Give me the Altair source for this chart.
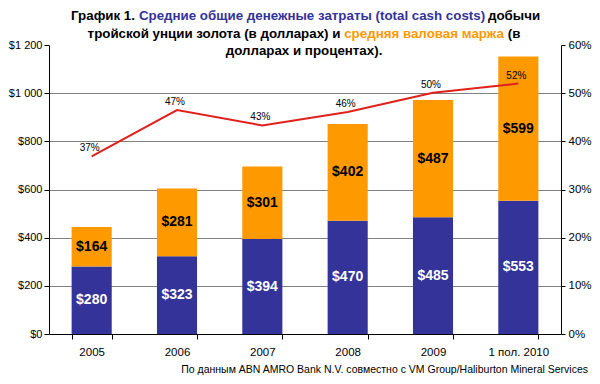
import altair as alt
import pandas as pd

categories = ["2005", "2006", "2007", "2008", "2009", "1 пол. 2010"]
cash_costs = [280, 323, 394, 470, 485, 553]
margins = [164, 281, 301, 402, 487, 599]
margin_pct = [0.369, 0.465, 0.433, 0.461, 0.501, 0.520]
margin_pct_labels = ["37%", "47%", "43%", "46%", "50%", "52%"]
left_ticks = [0, 200, 400, 600, 800, 1000, 1200]
right_ticks = [0, 0.1, 0.2, 0.3, 0.4, 0.5, 0.6]

BLUE = "#333399"
ORANGE = "#FF9900"
RED = "#E0201C"
FONT = "Liberation Sans"

# plot area origin on page: (49, 45); chart origin on page: (8, 8)
PX, PY = 49, 45

rows = []
for i, c in enumerate(categories):
    rows.append({"cat": c, "series": "cost", "value": cash_costs[i],
                 "mid": cash_costs[i] / 2, "label": f"${cash_costs[i]}", "order": 0})
    rows.append({"cat": c, "series": "margin", "value": margins[i],
                 "mid": cash_costs[i] + margins[i] / 2, "label": f"${margins[i]}", "order": 1})
bars_df = pd.DataFrame(rows)
line_df = pd.DataFrame({"cat": categories, "pct": margin_pct, "label": margin_pct_labels})

x_enc = alt.X("cat:N", sort=categories,
              scale=alt.Scale(paddingInner=0.53, paddingOuter=0.265),
              axis=alt.Axis(title=None, labelAngle=0, tickBand="extent", domainColor="black",
                            tickColor="black", tickSize=5, labelPadding=7, labelFontSize=11.5,
                            labelColor="black", labelFont=FONT, grid=False))

bars = alt.Chart(bars_df).mark_bar().encode(
    x=x_enc,
    y=alt.Y("value:Q", stack="zero",
            scale=alt.Scale(domain=[0, 1200], nice=False),
            axis=alt.Axis(title=None, values=left_ticks,
                          labelExpr="'$' + replace(format(datum.value, ','), ',', ' ')",
                          domainColor="black", tickColor="black", tickSize=5, labelPadding=2,
                          labelFontSize=11, labelColor="black", labelFont=FONT,
                          grid=True, gridColor="#808080",
                          gridOpacity=alt.condition("datum.value == 1200", alt.value(0), alt.value(1)))),
    color=alt.Color("series:N", scale=alt.Scale(domain=["cost", "margin"], range=[BLUE, ORANGE]),
                    legend=None),
    order=alt.Order("order:Q"),
)

bar_text = alt.Chart(bars_df).mark_text(fontSize=14, fontWeight="bold", font=FONT,
                                        baseline="middle").encode(
    x=alt.X("cat:N", sort=categories),
    y=alt.Y("mid:Q"),
    text="label:N",
    color=alt.Color("series:N", scale=alt.Scale(domain=["cost", "margin"], range=["white", "black"]),
                    legend=None),
)

left = alt.layer(bars, bar_text).resolve_scale(color="independent")

line = alt.Chart(line_df).mark_line(color=RED, strokeWidth=2).encode(
    x=alt.X("cat:N", sort=categories),
    y=alt.Y("pct:Q", scale=alt.Scale(domain=[0, 0.6], nice=False),
            axis=alt.Axis(title=None, orient="right", values=right_ticks, format=".0%",
                          domainColor="black", tickColor="black", tickSize=4, labelPadding=3,
                          labelFontSize=11.5, labelColor="black", labelFont=FONT, grid=False)),
)
line_text = alt.Chart(line_df).mark_text(fontSize=10, font=FONT, dy=-8, dx=-2,
                                         baseline="middle", color="black").encode(
    x=alt.X("cat:N", sort=categories),
    y=alt.Y("pct:Q"),
    text="label:N",
)
right = alt.layer(line, line_text)

def txt(s, x, y, color="black", size=13.33, weight="bold", align="center"):
    return alt.Chart(pd.DataFrame({"t": [s]})).mark_text(
        fontSize=size, fontWeight=weight, font=FONT, color=color, align=align,
        baseline="middle").encode(
        text="t:N", x=alt.value(x - PX), y=alt.value(y - PY))

title_parts = [
    txt("График 1.", 103, 16),
    txt("Средние общие денежные затраты (total cash costs)", 312, 16, color=BLUE),
    txt("добычи", 514, 16),
    txt("тройской унции золота (в долларах) и", 214, 33.5),
    txt("средняя валовая маржа", 424, 33.5, color=ORANGE),
    txt("(в", 514, 33.5),
    txt("долларах и процентах).", 304, 51),
    txt("По данным ABN AMRO Bank N.V. совместно с VM Group/Haliburton Mineral Services",
        588, 370, size=10.5, weight="normal", align="right"),
]

chart = alt.layer(left, right, *title_parts).resolve_scale(y="independent", color="independent").properties(
    width=512, height=289,
    autosize=alt.AutoSizeParams(type="none"),
    padding={"left": 41, "top": 37, "right": 31, "bottom": 42},
    background="white",
).configure_view(stroke=None)

chart.save("out.html", embed_options={"renderer": "svg", "actions": False})
